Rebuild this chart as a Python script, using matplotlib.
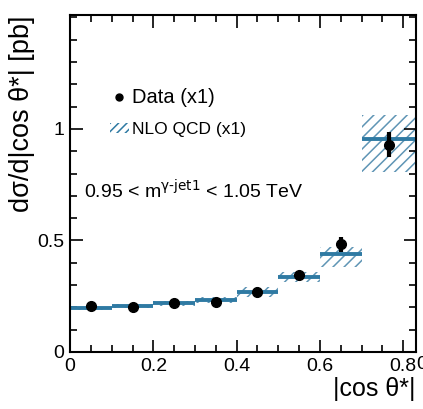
import numpy as np
import matplotlib
matplotlib.use("Agg")
import matplotlib.pyplot as plt
from matplotlib.patches import Patch
from matplotlib.lines import Line2D

plt.rcParams['font.family'] = ['Liberation Sans', 'DejaVu Sans']
plt.rcParams['hatch.linewidth'] = 1.1

# bins in |cos theta*|
edges = [0.0, 0.1, 0.2, 0.3, 0.4, 0.5, 0.6, 0.7, 0.83]
# NLO QCD prediction and its band
nlo = [0.196, 0.205, 0.218, 0.233, 0.270, 0.337, 0.440, 0.954]
nlo_lo = [0.188, 0.196, 0.205, 0.220, 0.247, 0.314, 0.381, 0.807]
nlo_hi = [0.203, 0.213, 0.230, 0.245, 0.290, 0.359, 0.471, 1.063]
# data
xdata = [0.05, 0.15, 0.25, 0.35, 0.45, 0.55, 0.65, 0.765]
ydata = [0.205, 0.203, 0.218, 0.226, 0.270, 0.343, 0.482, 0.930]
yerr = [0.008, 0.008, 0.008, 0.009, 0.012, 0.016, 0.034, 0.058]

blue = '#2f7aa3'
hatchblue = '#5f95b5'

fig = plt.figure(figsize=(4.23, 4.09), dpi=100)
ax = fig.add_axes([0.1655, 0.1394, 0.8175, 0.8236])

left = np.array(edges[:-1])
width = np.diff(edges)
ax.bar(left, np.array(nlo_hi) - np.array(nlo_lo), bottom=nlo_lo, width=width,
       align='edge', facecolor='none', edgecolor=hatchblue, hatch='///', linewidth=0)
ax.hlines(nlo, left, left + width, color=blue, lw=2.8)

ax.errorbar(xdata, ydata, yerr=yerr, fmt='o', color='black', ms=7,
            elinewidth=3, capsize=0)

ax.set_xlim(0, 0.83)
ax.set_ylim(0, 1.51)
ax.set_xticks([0, 0.2, 0.4, 0.6, 0.8])
ax.set_xticklabels(['0', '0.2', '0.4', '0.6', '0.8'])
ax.set_xticks(np.arange(0, 0.83, 0.05), minor=True)
ax.set_yticks([0, 0.5, 1.0])
ax.set_yticklabels(['0', '0.5', '1'])
ax.set_yticks(np.arange(0, 1.51, 0.1), minor=True)
ax.tick_params(which='both', direction='in', top=True, right=True,
               labelsize=14, width=1.2)
ax.tick_params(which='major', length=9, pad=4)
ax.tick_params(which='minor', length=5)
for s in ax.spines.values():
    s.set_linewidth(1.5)

ax.set_ylabel('dσ/d|cos θ*| [pb]', fontsize=19.5, loc='top', labelpad=2)
ax.set_xlabel('|cos θ*|', fontsize=18, loc='right', labelpad=2)

handles = [Line2D([], [], marker='o', color='black', ls='none', ms=5),
           Patch(facecolor='none', edgecolor=blue, hatch='////', linewidth=0)]
leg = ax.legend(handles, ['Data (x1)', 'NLO QCD (x1)'], loc='upper left',
                bbox_to_anchor=(0.07, 0.83), frameon=False, fontsize=12.5,
                handlelength=1.1, handleheight=0.5, handletextpad=0.2,
                labelspacing=0.85)
leg.get_texts()[0].set_fontsize(14.5)

ax.text(0.04, 0.455, r'0.95 < m$^{\mathrm{\gamma\text{-}jet1}}$ < 1.05 TeV',
        transform=ax.transAxes, fontsize=14)

# next panel's tick label, cut at the right edge as in the source image
fig.text(416 / 423, 0.108, '0', fontsize=14, ha='left', va='center')

fig.savefig('out.png', dpi=100)
